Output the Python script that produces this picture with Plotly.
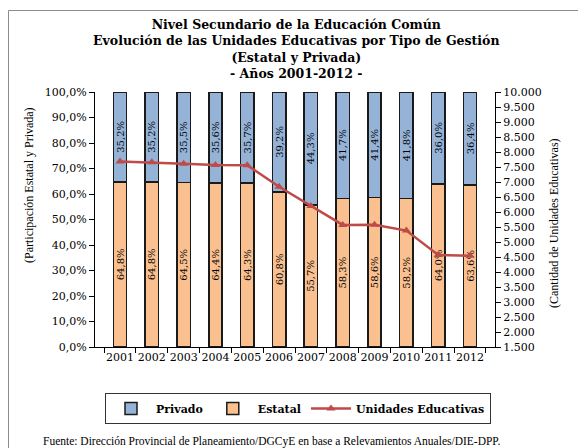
import plotly.graph_objects as go

years = ["2001", "2002", "2003", "2004", "2005", "2006", "2007", "2008", "2009", "2010", "2011", "2012"]
estatal = [64.8, 64.8, 64.5, 64.4, 64.3, 60.8, 55.7, 58.3, 58.6, 58.2, 64.0, 63.6]
privado = [35.2, 35.2, 35.5, 35.6, 35.7, 39.2, 44.3, 41.7, 41.4, 41.8, 36.0, 36.4]
unidades = [7680, 7655, 7610, 7570, 7560, 6840, 6200, 5570, 5575, 5380, 4570, 4545]

title_lines = ["Nivel Secundario de la Educación Común",
               "Evolución de las Unidades Educativas por Tipo de Gestión",
               "(Estatal y Privada)",
               "- Años 2001-2012 -"]
source_text = "Fuente: Dirección Provincial de Planeamiento/DGCyE en base a Relevamientos Anuales/DIE-DPP."

SERIF = "DejaVu Serif"
TIMES = "Liberation Serif"

# page has an 8px body margin: lay out in page pixels, then offset
OFF = 8
PL, PT, PW, PH = 95, 92, 400, 255   # plot area in page pixels


def px(xp):
    return (xp - PL) / PW


def py(yp):
    return (PT + PH - yp) / PH


fig = go.Figure()
fig.add_trace(go.Bar(
    x=years, y=estatal, name="Estatal", legendrank=2,
    marker=dict(color="#FAC08F", line=dict(color="#1a1a1a", width=1.5)),
    width=0.42,
    texttemplate="%{y:.1f}%", textposition="inside", insidetextanchor="middle",
    textangle=-90, constraintext="none",
    textfont=dict(family=SERIF, size=10, color="#000000"),
))
fig.add_trace(go.Bar(
    x=years, y=privado, name="Privado", legendrank=1,
    marker=dict(color="#95B3D7", line=dict(color="#1a1a1a", width=1.5)),
    width=0.42,
    texttemplate="%{y:.1f}%", textposition="inside", insidetextanchor="middle",
    textangle=-90, constraintext="none",
    textfont=dict(family=SERIF, size=10, color="#000000"),
))
fig.add_trace(go.Scatter(
    x=years, y=unidades, name="Unidades Educativas", legendrank=3, yaxis="y2",
    mode="lines+markers",
    line=dict(color="#BE4B48", width=2.5),
    marker=dict(symbol="triangle-up", size=8, color="#BE4B48"),
))

W, H = 586 - OFF, 448 - OFF
fig.update_layout(
    width=W, height=H,
    margin=dict(l=PL - OFF, r=W - (PL - OFF) - PW, t=PT - OFF, b=H - (PT - OFF) - PH,
                autoexpand=False),
    barmode="stack",
    separators=",.",
    paper_bgcolor="white", plot_bgcolor="white",
    font=dict(family=SERIF, size=11, color="#000000"),
    xaxis=dict(
        type="category", showline=True, linecolor="#000000", linewidth=1,
        ticks="outside", ticklen=5, tickcolor="#000000", tickson="boundaries",
        showgrid=False, tickfont=dict(family=SERIF, size=11), tickangle=0,
        automargin=False,
    ),
    yaxis=dict(
        range=[0, 100], dtick=10, tickformat=".1f", ticksuffix="%",
        showline=True, linecolor="#000000", linewidth=1,
        ticks="outside", ticklen=5, tickcolor="#000000",
        showgrid=False, zeroline=False, tickfont=dict(family=SERIF, size=11),
        automargin=False,
    ),
    yaxis2=dict(
        overlaying="y", side="right", range=[1500, 10000], dtick=500,
        tickformat=",d", showline=True, linecolor="#000000", linewidth=1,
        ticks="outside", ticklen=5, tickcolor="#000000",
        showgrid=False, zeroline=False, tickfont=dict(family=SERIF, size=11),
        automargin=False,
    ),
    legend=dict(
        orientation="h", x=px(105), xanchor="left",
        y=py(393), yanchor="top", traceorder="normal",
        bordercolor="#333333", borderwidth=1, bgcolor="white",
        font=dict(family=SERIF, size=11, weight="bold"),
        itemwidth=40,
    ),
    showlegend=True,
)

fig.add_annotation(text="<b>" + "<br>".join(title_lines) + "</b>",
                   xref="paper", yref="paper", x=px(296), y=py(15),
                   xanchor="center", yanchor="top", showarrow=False,
                   font=dict(family=SERIF, size=12.5, color="#000000"))
fig.add_annotation(text="(Participación Estatal y Privada)", textangle=-90,
                   xref="paper", yref="paper", x=px(20), y=py(185),
                   showarrow=False, font=dict(family=TIMES, size=12))
fig.add_annotation(text="(Cantidad de Unidades Educativas)", textangle=-90,
                   xref="paper", yref="paper", x=px(563), y=py(223),
                   showarrow=False, font=dict(family=TIMES, size=12))
fig.add_annotation(text=source_text, xref="paper", yref="paper",
                   x=px(271), y=py(441), yanchor="middle",
                   showarrow=False, font=dict(family=TIMES, size=11.5))

fig.add_shape(type="rect", xref="paper", yref="paper",
              x0=px(OFF + 0.5), x1=px(579.5), y0=py(10.5), y1=py(470),
              line=dict(color="#8c8c8c", width=1), fillcolor="rgba(0,0,0,0)", layer="above")

fig.write_html("out.html")
